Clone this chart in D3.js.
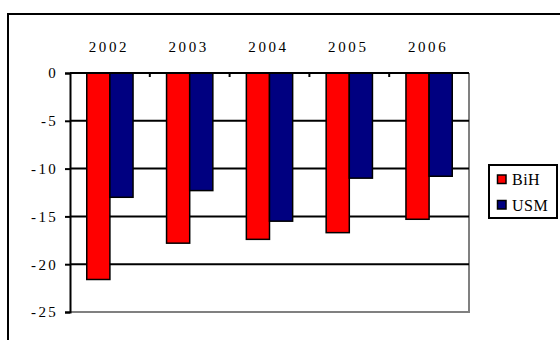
<!DOCTYPE html>
<html>
<head>
<meta charset="utf-8">
<script src="https://cdn.jsdelivr.net/npm/d3@7"></script>
<style>
  html, body { margin: 0; padding: 0; background: #fff; }
  svg { display: block; }
</style>
</head>
<body>
<svg id="chart" width="560" height="340"></svg>
<script>
// data
const years = ['2002', '2003', '2004', '2005', '2006'];
const seriesNames = ['BiH', 'USM'];
const bihValues = [-21.6, -17.8, -17.4, -16.7, -15.3];
const usmValues = [-13.0, -12.3, -15.5, -11.0, -10.8];
const yTicks = [0, -5, -10, -15, -20, -25];
const colors = { BiH: '#ff0000', USM: '#000080' };

const FONT = "'Liberation Serif', 'Times New Roman', Times, serif";
const plot = { left: 70, top: 73, right: 469, bottom: 312 };

const svg = d3.select('#chart');

// outer chart frame (cut off at right/bottom like the original)
svg.append('rect')
  .attr('x', 8).attr('y', 14)
  .attr('width', 560).attr('height', 340)
  .attr('fill', 'none').attr('stroke', '#000').attr('stroke-width', 2);

const x0 = d3.scaleBand().domain(years).range([plot.left, plot.right]).padding(0);
const step = x0.step();
const x1 = d3.scaleBand().domain(seriesNames).range([step * 0.21, step * 0.79]).padding(0);
const y = d3.scaleLinear().domain([-25, 0]).range([plot.bottom, plot.top]);

const rows = years.map((yr, i) => ({ year: yr, BiH: bihValues[i], USM: usmValues[i] }));

// grey plot border (right + bottom)
svg.append('path')
  .attr('d', `M${plot.right},${plot.top}V${plot.bottom}H${plot.left}`)
  .attr('fill', 'none').attr('stroke', '#808080').attr('stroke-width', 2);

// gridlines
svg.append('g').selectAll('line')
  .data(yTicks.filter(t => t !== 0 && t !== -25))
  .join('line')
  .attr('x1', plot.left).attr('x2', plot.right)
  .attr('y1', d => y(d)).attr('y2', d => y(d))
  .attr('stroke', '#000').attr('stroke-width', 2);

// bars
svg.append('g').selectAll('g')
  .data(rows)
  .join('g')
  .attr('transform', d => `translate(${x0(d.year)},0)`)
  .selectAll('rect')
  .data(d => seriesNames.map(k => ({ key: k, value: d[k] })))
  .join('rect')
  .attr('x', d => x1(d.key))
  .attr('width', x1.bandwidth())
  .attr('y', y(0))
  .attr('height', d => y(d.value) - y(0))
  .attr('fill', d => colors[d.key])
  .attr('stroke', '#000').attr('stroke-width', 1.5);

// y axis
const yAxis = svg.append('g')
  .attr('transform', `translate(${plot.left},0)`)
  .call(d3.axisLeft(y).tickValues(yTicks).tickSize(5).tickPadding(7)
    .tickFormat(d => String(d).replace('\u2212', '-')));
yAxis.attr('font-family', FONT).attr('font-size', 15);
yAxis.select('.domain').attr('stroke', '#000').attr('stroke-width', 2);
yAxis.selectAll('.tick line').attr('stroke', '#000').attr('stroke-width', 2);
yAxis.selectAll('.tick text')
  .attr('font-family', FONT).attr('font-size', 15)
  .attr('letter-spacing', 2.3).attr('fill', '#000');

// category axis along the zero line, labels on top
const xAxis = svg.append('g')
  .attr('transform', `translate(0,${plot.top})`);
xAxis.append('line')
  .attr('x1', plot.left).attr('x2', plot.right)
  .attr('stroke', '#000').attr('stroke-width', 2);
xAxis.selectAll('line.tk')
  .data(years.slice(1))
  .join('line').attr('class', 'tk')
  .attr('x1', d => x0(d)).attr('x2', d => x0(d))
  .attr('y1', 0).attr('y2', 4)
  .attr('stroke', '#000').attr('stroke-width', 2);
xAxis.selectAll('text')
  .data(years)
  .join('text')
  .attr('x', d => x0(d) + step / 2 - 1)
  .attr('y', -21)
  .attr('text-anchor', 'middle')
  .attr('font-family', FONT).attr('font-size', 15)
  .attr('letter-spacing', 2.6)
  .text(d => d);

// legend
const legend = svg.append('g').attr('transform', 'translate(489,165)');
legend.append('rect')
  .attr('width', 68).attr('height', 53)
  .attr('fill', '#fff').attr('stroke', '#000').attr('stroke-width', 2);
const items = legend.selectAll('g.item')
  .data(seriesNames)
  .join('g').attr('class', 'item')
  .attr('transform', (d, i) => `translate(8,${14.5 + i * 25.5})`);
items.append('rect')
  .attr('x', 0.5).attr('y', -4.5).attr('width', 8.5).attr('height', 8.5)
  .attr('fill', d => colors[d]).attr('stroke', '#000').attr('stroke-width', 1.5);
items.append('text')
  .attr('x', 15).attr('y', 5.5)
  .attr('font-family', FONT).attr('font-size', 16)
  .attr('letter-spacing', 0.5)
  .text(d => d);
</script>
</body>
</html>
